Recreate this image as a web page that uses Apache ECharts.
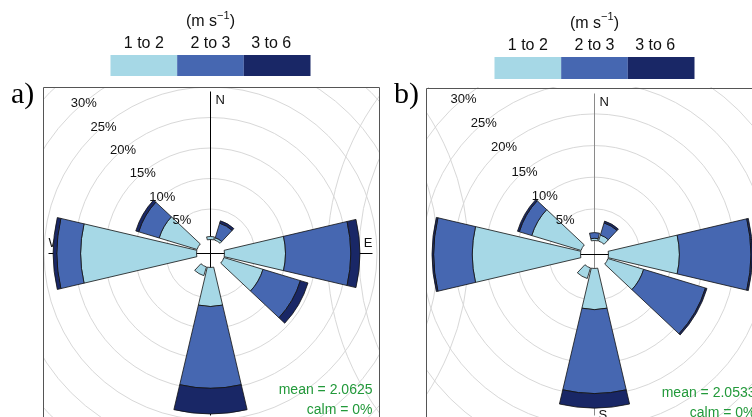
<!DOCTYPE html>
<html>
<head>
<meta charset="utf-8">
<script src="https://cdn.jsdelivr.net/npm/echarts@6/dist/echarts.min.js"></script>
<style>
  html, body { margin: 0; padding: 0; background: #fff; }
  #chart { width: 752px; height: 417px; }
</style>
</head>
<body>
<div id="chart"></div>
<script>
// Wind direction bins (degrees, 30° sectors) and wind speed classes (m s-1)
const directions = ['0', '30', '60', '90', '120', '150', '180', '210', '240', '270', '300', '330'];
const speedBins = ['1 to 2', '2 to 3', '3 to 6'];
const ringTicks = [5, 10, 15, 20, 25, 30];
const ringLabels = ['5%', '10%', '15%', '20%', '25%', '30%'];
const compass = ['N', 'E', 'S', 'W'];

// Frequency (%) per direction for each speed class, site a)
const freqA_1to2 = [0.5, 0.4, 0, 10.0, 6.7, 0, 6.4, 1.5, 0, 19.0, 6.5, 0];
const freqA_2to3 = [0, 2.5, 0, 10.7, 6.4, 0, 13.4, 0, 0, 3.9, 3.5, 0];
const freqA_3to6 = [0, 0.4, 0, 1.5, 1.3, 0, 4.2, 0, 0, 0.6, 0.5, 0];

// Frequency (%) per direction for each speed class, site b)
const freqB_1to2 = [0.35, 1.0, 0, 11.2, 5.9, 0, 6.5, 1.75, 0, 17.1, 8.15, 0];
const freqB_2to3 = [0.9, 2.0, 0, 11.3, 10.2, 0, 13.25, 0, 0, 6.1, 2.05, 0];
const freqB_3to6 = [0, 0.3, 0, 0.25, 0.25, 0, 2.3, 0, 0, 0.25, 0.3, 0];

const meanSpeed = ['2.0625', '2.0533'];
const calmPct = ['0%', '0%'];
const panelTags = ['a)', 'b)'];

// ---- styling / layout ----
const binColors = ['#A6D8E6', '#4667B1', '#192766'];
const FONT = '"Liberation Sans", Arial, Helvetica, sans-serif';
const AXIS_MAX = 40;
const legendLabelShift = [0, 0, -6];

const panels = [
  { cx: 210.5, cy: 253.5, pxPerPct: 6.1,  holePx: 14, axisLen: 162, sOffset: -8,
    box: { x: 43.5, y: 87.5 }, legendTop: 55, legendH: 21, unitY: 22, labelY: 44,
    tagX: 11, statY: 390, crossV: '#000', data: [freqA_1to2, freqA_2to3, freqA_3to6] },
  { cx: 594.5, cy: 254.5, pxPerPct: 6.33, holePx: 14, axisLen: 161, sOffset: 0,
    box: { x: 426.5, y: 88.5 }, legendTop: 57, legendH: 22, unitY: 23.5, labelY: 46,
    tagX: 394, statY: 393, crossV: '#8a8a8a', data: [freqB_1to2, freqB_2to3, freqB_3to6] }
];
const BOX_W = 336, BOX_H = 345;

const chart = echarts.init(document.getElementById('chart'), null, { renderer: 'canvas' });

const polar = [], angleAxis = [], radiusAxis = [], series = [];
panels.forEach((p, pi) => {
  const hole = p.holePx / p.pxPerPct;
  p.hole = hole;
  polar.push({ center: [p.cx, p.cy], radius: (AXIS_MAX + hole) * p.pxPerPct });
  angleAxis.push({
    polarIndex: pi, type: 'category', data: directions, startAngle: 105, clockwise: true,
    boundaryGap: true, axisLine: { show: false }, axisTick: { show: false },
    axisLabel: { show: false }, splitLine: { show: false }, splitArea: { show: false }
  });
  radiusAxis.push({
    polarIndex: pi, type: 'value', min: -hole, max: AXIS_MAX,
    axisLine: { show: false }, axisTick: { show: false },
    axisLabel: { show: false }, splitLine: { show: false }
  });
  p.data.forEach((arr, bi) => {
    series.push({
      type: 'bar', coordinateSystem: 'polar', polarIndex: pi,
      name: speedBins[bi], stack: 'rose' + pi, barCategoryGap: '12%',
      data: arr.map(v => (v > 0 ? v : null)),
      itemStyle: { color: binColors[bi], borderColor: '#111', borderWidth: 0.8 },
      emphasis: { disabled: true }, silent: true, z: 5
    });
  });
});

chart.setOption({
  backgroundColor: '#ffffff',
  animation: false,
  polar, angleAxis, radiusAxis, series
});

// Pixel radius of a frequency value on a panel, taken from the polar coordinate system
function radiusOf(pi, value) {
  const p = panels[pi];
  try {
    const pt = chart.convertToPixel({ polarIndex: pi }, [value, 0]);
    if (pt && isFinite(pt[0])) return Math.hypot(pt[0] - p.cx, pt[1] - p.cy);
  } catch (e) { /* fall through */ }
  return (value + p.hole) * p.pxPerPct;
}

const graphics = [];
panels.forEach((p, pi) => {
  // grid rings every 5 %
  for (let v = 5; v <= 40; v += 5) {
    graphics.push({ type: 'circle', silent: true, z: 1,
      shape: { cx: p.cx, cy: p.cy, r: radiusOf(pi, v) },
      style: { fill: null, stroke: '#d8d8d8', lineWidth: 1 } });
  }
  // N-S and E-W axes
  graphics.push({ type: 'line', silent: true, z: 2,
    shape: { x1: p.cx, y1: p.cy - p.axisLen, x2: p.cx, y2: p.cy + p.axisLen },
    style: { stroke: p.crossV, lineWidth: 1 } });
  graphics.push({ type: 'line', silent: true, z: 2,
    shape: { x1: p.cx - p.axisLen, y1: p.cy, x2: p.cx + p.axisLen, y2: p.cy },
    style: { stroke: '#000', lineWidth: 1 } });
  // compass letters (drawn beneath the petals)
  const cs = { fontFamily: FONT, fontSize: 13, fill: '#111' };
  graphics.push({ type: 'text', z: 2, silent: true, x: p.cx + 5, y: p.cy - p.axisLen + 9,
    style: Object.assign({ text: compass[0], textAlign: 'left', textVerticalAlign: 'middle' }, cs) });
  graphics.push({ type: 'text', z: 2, silent: true, x: p.cx + p.axisLen, y: p.cy - 10,
    style: Object.assign({ text: compass[1], textAlign: 'right', textVerticalAlign: 'middle' }, cs) });
  graphics.push({ type: 'text', z: 2, silent: true, x: p.cx + 4, y: p.cy + p.axisLen + p.sOffset,
    style: Object.assign({ text: compass[2], textAlign: 'left', textVerticalAlign: 'middle' }, cs) });
  graphics.push({ type: 'text', z: 2, silent: true, x: p.cx - p.axisLen, y: p.cy - 10,
    style: Object.assign({ text: compass[3], textAlign: 'left', textVerticalAlign: 'middle' }, cs) });
});

// white margins clip the rings to the panel frames
graphics.push({ type: 'rect', z: 10, silent: true, shape: { x: 0, y: 0, width: 752, height: 87 }, style: { fill: '#fff' } });
graphics.push({ type: 'rect', z: 10, silent: true, shape: { x: 0, y: 0, width: 43, height: 417 }, style: { fill: '#fff' } });
graphics.push({ type: 'rect', z: 10, silent: true, shape: { x: 380, y: 0, width: 46, height: 417 }, style: { fill: '#fff' } });

panels.forEach((p, pi) => {
  // frame
  graphics.push({ type: 'rect', z: 20, silent: true,
    shape: { x: p.box.x, y: p.box.y, width: BOX_W, height: BOX_H },
    style: { fill: null, stroke: '#555', lineWidth: 1 } });
  // ring labels along the NW diagonal
  const ang = 320 * Math.PI / 180;
  ringTicks.forEach((v, k) => {
    const r = radiusOf(pi, v);
    graphics.push({ type: 'text', z: 20, silent: true,
      x: p.cx + r * Math.sin(ang), y: p.cy - r * Math.cos(ang) + 1,
      style: { text: ringLabels[k], fontFamily: FONT, fontSize: 13, fill: '#111',
        textAlign: 'center', textVerticalAlign: 'middle' } });
  });
  // mean / calm statistics
  const right = p.box.x + BOX_W - 7;
  graphics.push({ type: 'text', z: 20, silent: true, x: right, y: p.statY,
    style: { text: 'mean = ' + meanSpeed[pi], fontFamily: FONT, fontSize: 14, fill: '#22993A',
      textAlign: 'right', textVerticalAlign: 'middle' } });
  graphics.push({ type: 'text', z: 20, silent: true, x: right, y: p.statY + 20,
    style: { text: 'calm = ' + calmPct[pi], fontFamily: FONT, fontSize: 14, fill: '#22993A',
      textAlign: 'right', textVerticalAlign: 'middle' } });
  // panel tag
  graphics.push({ type: 'text', z: 20, silent: true, x: p.tagX, y: 95,
    style: { text: panelTags[pi], fontFamily: '"Liberation Serif", "Times New Roman", serif',
      fontSize: 30, fill: '#000', textAlign: 'left', textVerticalAlign: 'middle' } });
  // speed legend
  const segW = 200 / speedBins.length;
  const x0 = p.cx - 100;
  speedBins.forEach((lab, bi) => {
    graphics.push({ type: 'rect', z: 20, silent: true,
      shape: { x: x0 + bi * segW, y: p.legendTop, width: segW, height: p.legendH },
      style: { fill: binColors[bi] } });
    graphics.push({ type: 'text', z: 20, silent: true,
      x: x0 + (bi + 0.5) * segW + legendLabelShift[bi], y: p.labelY,
      style: { text: lab, fontFamily: FONT, fontSize: 16, fill: '#111',
        textAlign: 'center', textVerticalAlign: 'middle' } });
  });
  graphics.push({ type: 'text', z: 20, silent: true, x: p.cx, y: p.unitY,
    style: { text: '{n|(m s}{s|\u22121}{n|)}', fontFamily: FONT, fill: '#111',
      textAlign: 'center', textVerticalAlign: 'middle',
      rich: {
        n: { fontFamily: FONT, fontSize: 16, lineHeight: 24, fill: '#111' },
        s: { fontFamily: FONT, fontSize: 11, lineHeight: 12, verticalAlign: 'top', fill: '#111' }
      } } });
});

chart.setOption({ graphic: { elements: graphics } });
</script>
</body>
</html>
